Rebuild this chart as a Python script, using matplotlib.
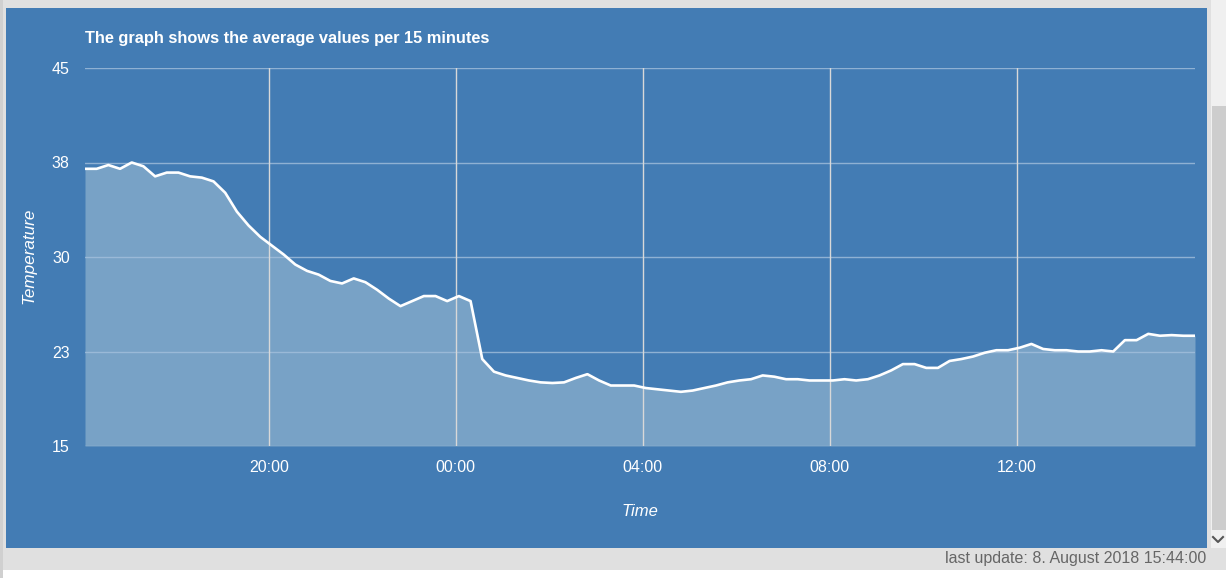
import numpy as np
import pandas as pd
import matplotlib
matplotlib.use('Agg')
import matplotlib.pyplot as plt
import matplotlib.dates as mdates
from matplotlib.patches import Rectangle
from matplotlib.lines import Line2D

# ---- data: 15 minute averages, 7 Aug 2018 16:04 -> 8 Aug 2018 15:49
temps = [37.0, 37.0, 37.3, 37.0, 37.5, 37.2, 36.4, 36.7, 36.7, 36.4,
         36.3, 36.0, 35.1, 33.6, 32.5, 31.6, 30.9, 30.2, 29.4, 28.9,
         28.6, 28.1, 27.9, 28.3, 28.0, 27.4, 26.7, 26.1, 26.5, 26.9,
         26.9, 26.5, 26.9, 26.5, 21.9, 20.9, 20.6, 20.4, 20.2, 20.05,
         20.0, 20.05, 20.4, 20.7, 20.2, 19.8, 19.8, 19.8, 19.6, 19.5,
         19.4, 19.3, 19.4, 19.6, 19.8, 20.05, 20.2, 20.3, 20.6, 20.5,
         20.3, 20.3, 20.2, 20.2, 20.2, 20.3, 20.2, 20.3, 20.6, 21.0,
         21.5, 21.5, 21.2, 21.2, 21.75, 21.9, 22.1, 22.4, 22.6, 22.6,
         22.8, 23.1, 22.7, 22.6, 22.6, 22.5, 22.5, 22.6, 22.5, 23.4,
         23.4, 23.9, 23.75, 23.8, 23.75, 23.75]
times = pd.date_range('2018-08-07 16:04', periods=len(temps), freq='15min')

ytick_vals = [15, 22.5, 30, 37.5, 45]
ytick_labels = ['15', '23', '30', '38', '45']
xtick_times = pd.to_datetime(['2018-08-07 20:00', '2018-08-08 00:00', '2018-08-08 04:00',
                              '2018-08-08 08:00', '2018-08-08 12:00'])

title = 'The graph shows the average values per 15 minutes'
footer = 'last update: 8. August 2018 15:44:00'

W, H = 1226, 578
PANEL = '#437cb4'
FILL = '#78a2c6'
SANS = ['Liberation Sans', 'DejaVu Sans']

fig = plt.figure(figsize=(W / 100, H / 100), dpi=100)
fig.patch.set_facecolor('white')


def rect(x, y, w, h, color, z=0):
    # pixel box (top-left origin) -> figure fraction
    fig.add_artist(Rectangle((x / W, 1 - (y + h) / H), w / W, h / H,
                             transform=fig.transFigure, facecolor=color,
                             edgecolor='none', zorder=z))


# page chrome
rect(0, 0, W, 570, '#e0e0e0')
rect(0, 0, 3, 578, '#d0d0d0')
rect(1211, 0, 15, 548, '#f0f0f0')
rect(1212, 106, 14, 424, '#cdcdcd')
rect(6, 8, 1201, 540, PANEL)
fig.add_artist(Line2D([1213 / W, 1218 / W, 1223 / W],
                      [1 - 537 / H, 1 - 542 / H, 1 - 537 / H],
                      transform=fig.transFigure, color='#555555', lw=1.5))

# plot area
ax = fig.add_axes([85 / W, 1 - 446 / H, 1110 / W, 378 / H])
ax.set_facecolor('none')
ax.fill_between(times, temps, 15, color=FILL, lw=0, zorder=1)
ax.plot(times, temps, color='white', lw=1.9, zorder=3, solid_joinstyle='round')

ax.set_ylim(15, 45)
ax.set_xlim(times[0], times[-1])
ax.set_yticks(ytick_vals)
ax.set_yticklabels(ytick_labels)
ax.set_xticks(xtick_times)
ax.xaxis.set_major_formatter(mdates.DateFormatter('%H:%M'))

for v in ytick_vals:
    ax.axhline(v, color='#a3bfdc', lw=1, alpha=0.8, zorder=2)
for t in xtick_times:
    ax.axvline(t, color='#d8d8d8', lw=1, zorder=2)

for s in ax.spines.values():
    s.set_visible(False)
ax.tick_params(length=0, colors='white', labelsize=11.5, pad=10)
ax.tick_params(axis='y', pad=11)
for lab in ax.get_xticklabels() + ax.get_yticklabels():
    lab.set_family(SANS)

fig.text(85 / W, 1 - 39 / H, title, color='white', fontsize=11.8,
         fontweight='bold', family=SANS, ha='left', va='center')
fig.text(29 / W, 1 - 256 / H, 'Temperature', color='white', fontsize=12.3,
         style='italic', rotation=90, family=SANS, ha='center', va='center')
fig.text(640 / W, 1 - 511 / H, 'Time', color='white', fontsize=12,
         style='italic', family=SANS, ha='center', va='center')
fig.text(1206 / W, 1 - 559 / H, footer, color='#666666', fontsize=11.5,
         family=SANS, ha='right', va='center')

fig.savefig('out.png', dpi=100, facecolor=fig.get_facecolor())
